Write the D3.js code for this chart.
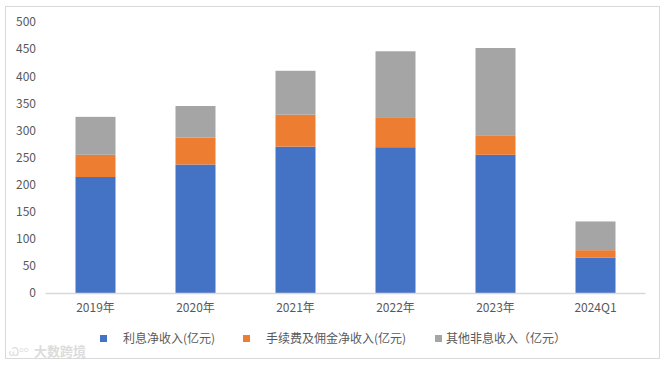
<!DOCTYPE html>
<html><head><meta charset="utf-8">
<script src="https://cdn.jsdelivr.net/npm/d3@7"></script>
<style>body{margin:0;background:#fff;}svg{display:block;}</style>
</head><body>
<script>
const categories = ["2019年","2020年","2021年","2022年","2023年","2024Q1"];
const interestNet = [214, 237, 270, 269, 255, 65];
const feeNet = [41, 50, 59, 54, 36, 14];
const otherNonInterest = [70, 58, 81, 123, 161, 53];
const seriesNames = ["利息净收入(亿元)","手续费及佣金净收入(亿元)","其他非息收入（亿元）"];
const yTicks = [0,50,100,150,200,250,300,350,400,450,500];
const colors = ["#4472c4","#ed7d31","#a5a5a5"];

const W = 667, H = 366;
const svg = d3.select("body").append("svg").attr("width", W).attr("height", H);
const font = "'Noto Sans CJK SC','Noto Sans',sans-serif";

svg.append("rect").attr("x",5.5).attr("y",6.5).attr("width",654).attr("height",352)
  .attr("fill","#fff").attr("stroke","#d9d9d9").attr("stroke-width",1);

const x = d3.scaleBand().domain(categories).range([45.5, 645.5]).paddingInner(0.6).paddingOuter(0.3);
const y = d3.scaleLinear().domain([0, 500]).range([293, 22]);

const table = categories.map((c,i)=>({cat:c, a:interestNet[i], b:feeNet[i], c2:otherNonInterest[i]}));
const stack = d3.stack().keys(["a","b","c2"])(table);

svg.append("g").selectAll("g").data(stack).join("g").attr("fill",(d,i)=>colors[i])
  .selectAll("rect").data(d=>d).join("rect")
  .attr("x", d=>x(d.data.cat)).attr("width", x.bandwidth())
  .attr("y", d=>y(d[1])).attr("height", d=>y(d[0])-y(d[1]));

// y axis labels
const yAxis = d3.axisLeft(y).tickValues(yTicks).tickSize(0).tickPadding(0);
const gy = svg.append("g").attr("transform","translate(36,0)").call(yAxis);
gy.select(".domain").remove();
gy.selectAll("text").attr("fill","#595959").style("font-family",font).style("font-size","12px");

// x axis
const xAxis = d3.axisBottom(x).tickSize(0).tickPadding(10);
const gx = svg.append("g").attr("transform","translate(0,293.5)").call(xAxis);
gx.select(".domain").attr("stroke","#d9d9d9").attr("stroke-width",1.5).attr("d","M45.5,0H645.5");
gx.selectAll("text").attr("fill","#595959").style("font-family",font).style("font-size","12px");

// legend
const legendX = [100, 243, 435];
const legendTextX = [123, 266, 446];
const lg = svg.append("g");
seriesNames.forEach((n,i)=>{
  lg.append("rect").attr("x",legendX[i]).attr("y",335).attr("width",7).attr("height",7).attr("fill",colors[i]);
  lg.append("text").attr("x",legendTextX[i]).attr("y",343).text(n)
    .attr("fill","#595959").style("font-family",font).style("font-size","12px");
});

// watermark
svg.append("text").attr("x",34).attr("y",356).text("大数跨境")
  .attr("fill","#dcdcdc").style("font-family",font).style("font-size","13px").style("font-weight","bold");
svg.append("text").attr("x",9).attr("y",356).text("Ꮗᵒᵒ")
  .attr("fill","#dcdcdc").style("font-family",font).style("font-size","12px");
</script>
</body></html>
